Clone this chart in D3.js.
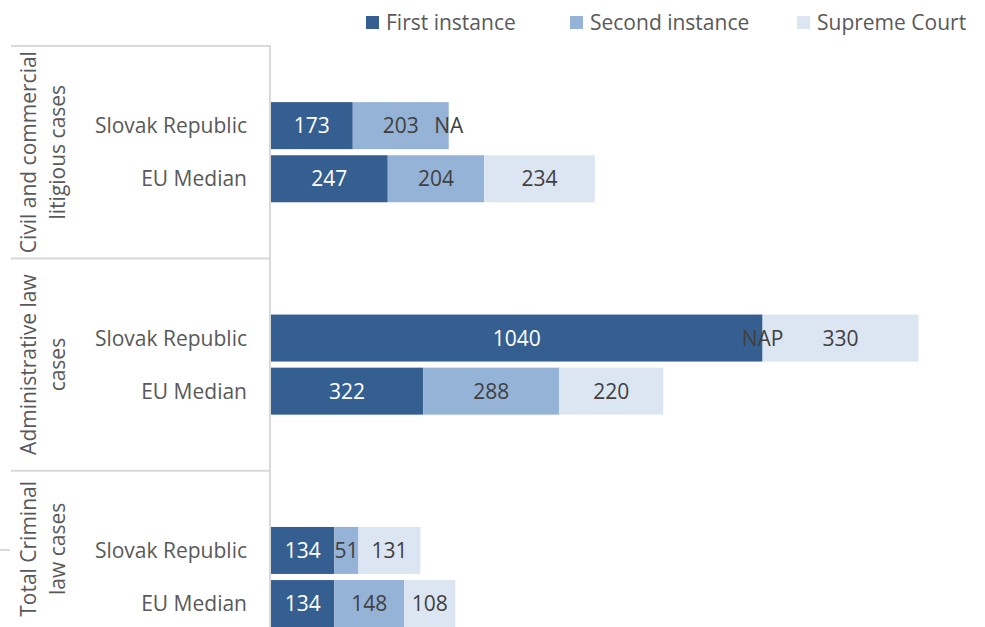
<!DOCTYPE html>
<html>
<head>
<meta charset="utf-8">
<script src="https://cdn.jsdelivr.net/npm/d3@7"></script>
<style>
  body { margin: 0; background: #fff; }
  text { font-family: "Open Sans", sans-serif; }
</style>
</head>
<body>
<div id="ChartContainer"></div>
<script>
// chart data
var groupNames = [
  ["Civil and commercial", "litigious cases"],
  ["Administrative law", "cases"],
  ["Total Criminal", "law cases"]
]
var rowNames = ["Slovak Republic", "EU Median"]
var seriesNames = ["First instance", "Second instance", "Supreme Court"]
// one entry per row: civil SK, civil EU, admin SK, admin EU, criminal SK, criminal EU
var firstInstance = [173, 247, 1040, 322, 134, 134]
var secondInstance = [203, 204, "NAP", 288, 51, 148]
var supremeCourt = ["NA", 234, 330, 220, 131, 108]

var seriesValues = [firstInstance, secondInstance, supremeCourt]
var colors = ["#365f91", "#95b3d7", "#dce6f2"]
var labelColors = ["#ffffff", "#404040", "#404040"]

var fullWidth = 985
var fullHeight = 627
var plotTop = 46
var step = 53.1
var xLeft = 271
var fontSize = "21px"
var lineColor = "#d9d9d9"
var textColor = "#595959"

var svg = d3.select("#ChartContainer").append("svg")
  .attr("width", fullWidth)
  .attr("height", fullHeight)

// four slots per group: blank, SK, EU, blank
var slots = []
groupNames.forEach((g, gi) => {
  slots.push(gi + "-pad0")
  rowNames.forEach((r, ri) => slots.push(gi + "-" + ri))
  slots.push(gi + "-pad1")
})

var y = d3.scaleBand()
  .domain(slots)
  .range([plotTop, plotTop + slots.length * step])
  .paddingInner(0.115)
  .paddingOuter(0.0575)

var x = d3.scaleLinear()
  .domain([0, 1500])
  .range([xLeft, 980])

var num = v => (typeof v === "number" ? v : 0)

// rows with stacked segments
var rows = []
groupNames.forEach((g, gi) => {
  rowNames.forEach((r, ri) => {
    var idx = gi * rowNames.length + ri
    var start = 0
    var segs = seriesValues.map((vals, si) => {
      var v = vals[idx]
      var seg = { series: si, x0: start, x1: start + num(v), label: String(v) }
      start += num(v)
      return seg
    })
    rows.push({ key: gi + "-" + ri, name: r, segs: segs })
  })
})

// category table lines
var groupTop = gi => y(gi + "-pad0") - y.step() * y.paddingOuter()
groupNames.forEach((g, gi) => {
  svg.append("line")
    .attr("x1", 11).attr("x2", xLeft - 1)
    .attr("y1", groupTop(gi)).attr("y2", groupTop(gi))
    .attr("stroke", lineColor).attr("stroke-width", 2)
})
svg.append("line")
  .attr("x1", 0).attr("x2", 10)
  .attr("y1", 550).attr("y2", 550)
  .attr("stroke", lineColor).attr("stroke-width", 2)

// vertical axis line
svg.append("line")
  .attr("x1", xLeft - 1).attr("x2", xLeft - 1)
  .attr("y1", plotTop - 1).attr("y2", fullHeight)
  .attr("stroke", lineColor).attr("stroke-width", 2)

// bars
var rowG = svg.selectAll(".Row")
  .data(rows)
  .enter().append("g")
  .attr("class", "Row")

rowG.selectAll(".Bar")
  .data(d => d.segs.map(s => Object.assign({ key: d.key }, s)))
  .enter().append("rect")
  .attr("class", "Bar")
  .attr("x", s => x(s.x0))
  .attr("y", s => y(s.key))
  .attr("width", s => x(s.x1) - x(s.x0))
  .attr("height", y.bandwidth())
  .attr("fill", s => colors[s.series])

rowG.selectAll(".BarLabel")
  .data(d => d.segs.map(s => Object.assign({ key: d.key }, s)))
  .enter().append("text")
  .attr("class", "BarLabel")
  .attr("x", s => (x(s.x0) + x(s.x1)) / 2)
  .attr("y", s => y(s.key) + y.bandwidth() / 2)
  .attr("dy", "0.36em")
  .attr("text-anchor", "middle")
  .attr("font-size", fontSize)
  .attr("fill", s => labelColors[s.series])
  .text(s => s.label)

// row labels
rowG.append("text")
  .attr("x", 247)
  .attr("y", d => y(d.key) + y.bandwidth() / 2)
  .attr("dy", "0.36em")
  .attr("text-anchor", "end")
  .attr("font-size", fontSize)
  .attr("fill", textColor)
  .text(d => d.name)

// group labels, centred on the visible part of each group
groupNames.forEach((lines, gi) => {
  var top = groupTop(gi)
  var bottom = Math.min(top + 4 * y.step(), fullHeight)
  var cy = (top + bottom) / 2
  lines.forEach((line, li) => {
    svg.append("text")
      .attr("transform", `translate(${36 + li * 29},${cy}) rotate(-90)`)
      .attr("text-anchor", "middle")
      .attr("font-size", fontSize)
      .attr("fill", textColor)
      .text(line)
  })
})

// legend
var legendX = [366, 570, 797]
var legend = svg.selectAll(".Legend")
  .data(seriesNames)
  .enter().append("g")
  .attr("class", "Legend")
  .attr("transform", (d, i) => `translate(${legendX[i]},16)`)
legend.append("rect")
  .attr("width", 13).attr("height", 13)
  .attr("fill", (d, i) => colors[i])
legend.append("text")
  .attr("x", 20)
  .attr("y", 6.5)
  .attr("dy", "0.36em")
  .attr("font-size", fontSize)
  .attr("fill", textColor)
  .text(d => d)
</script>
</body>
</html>
